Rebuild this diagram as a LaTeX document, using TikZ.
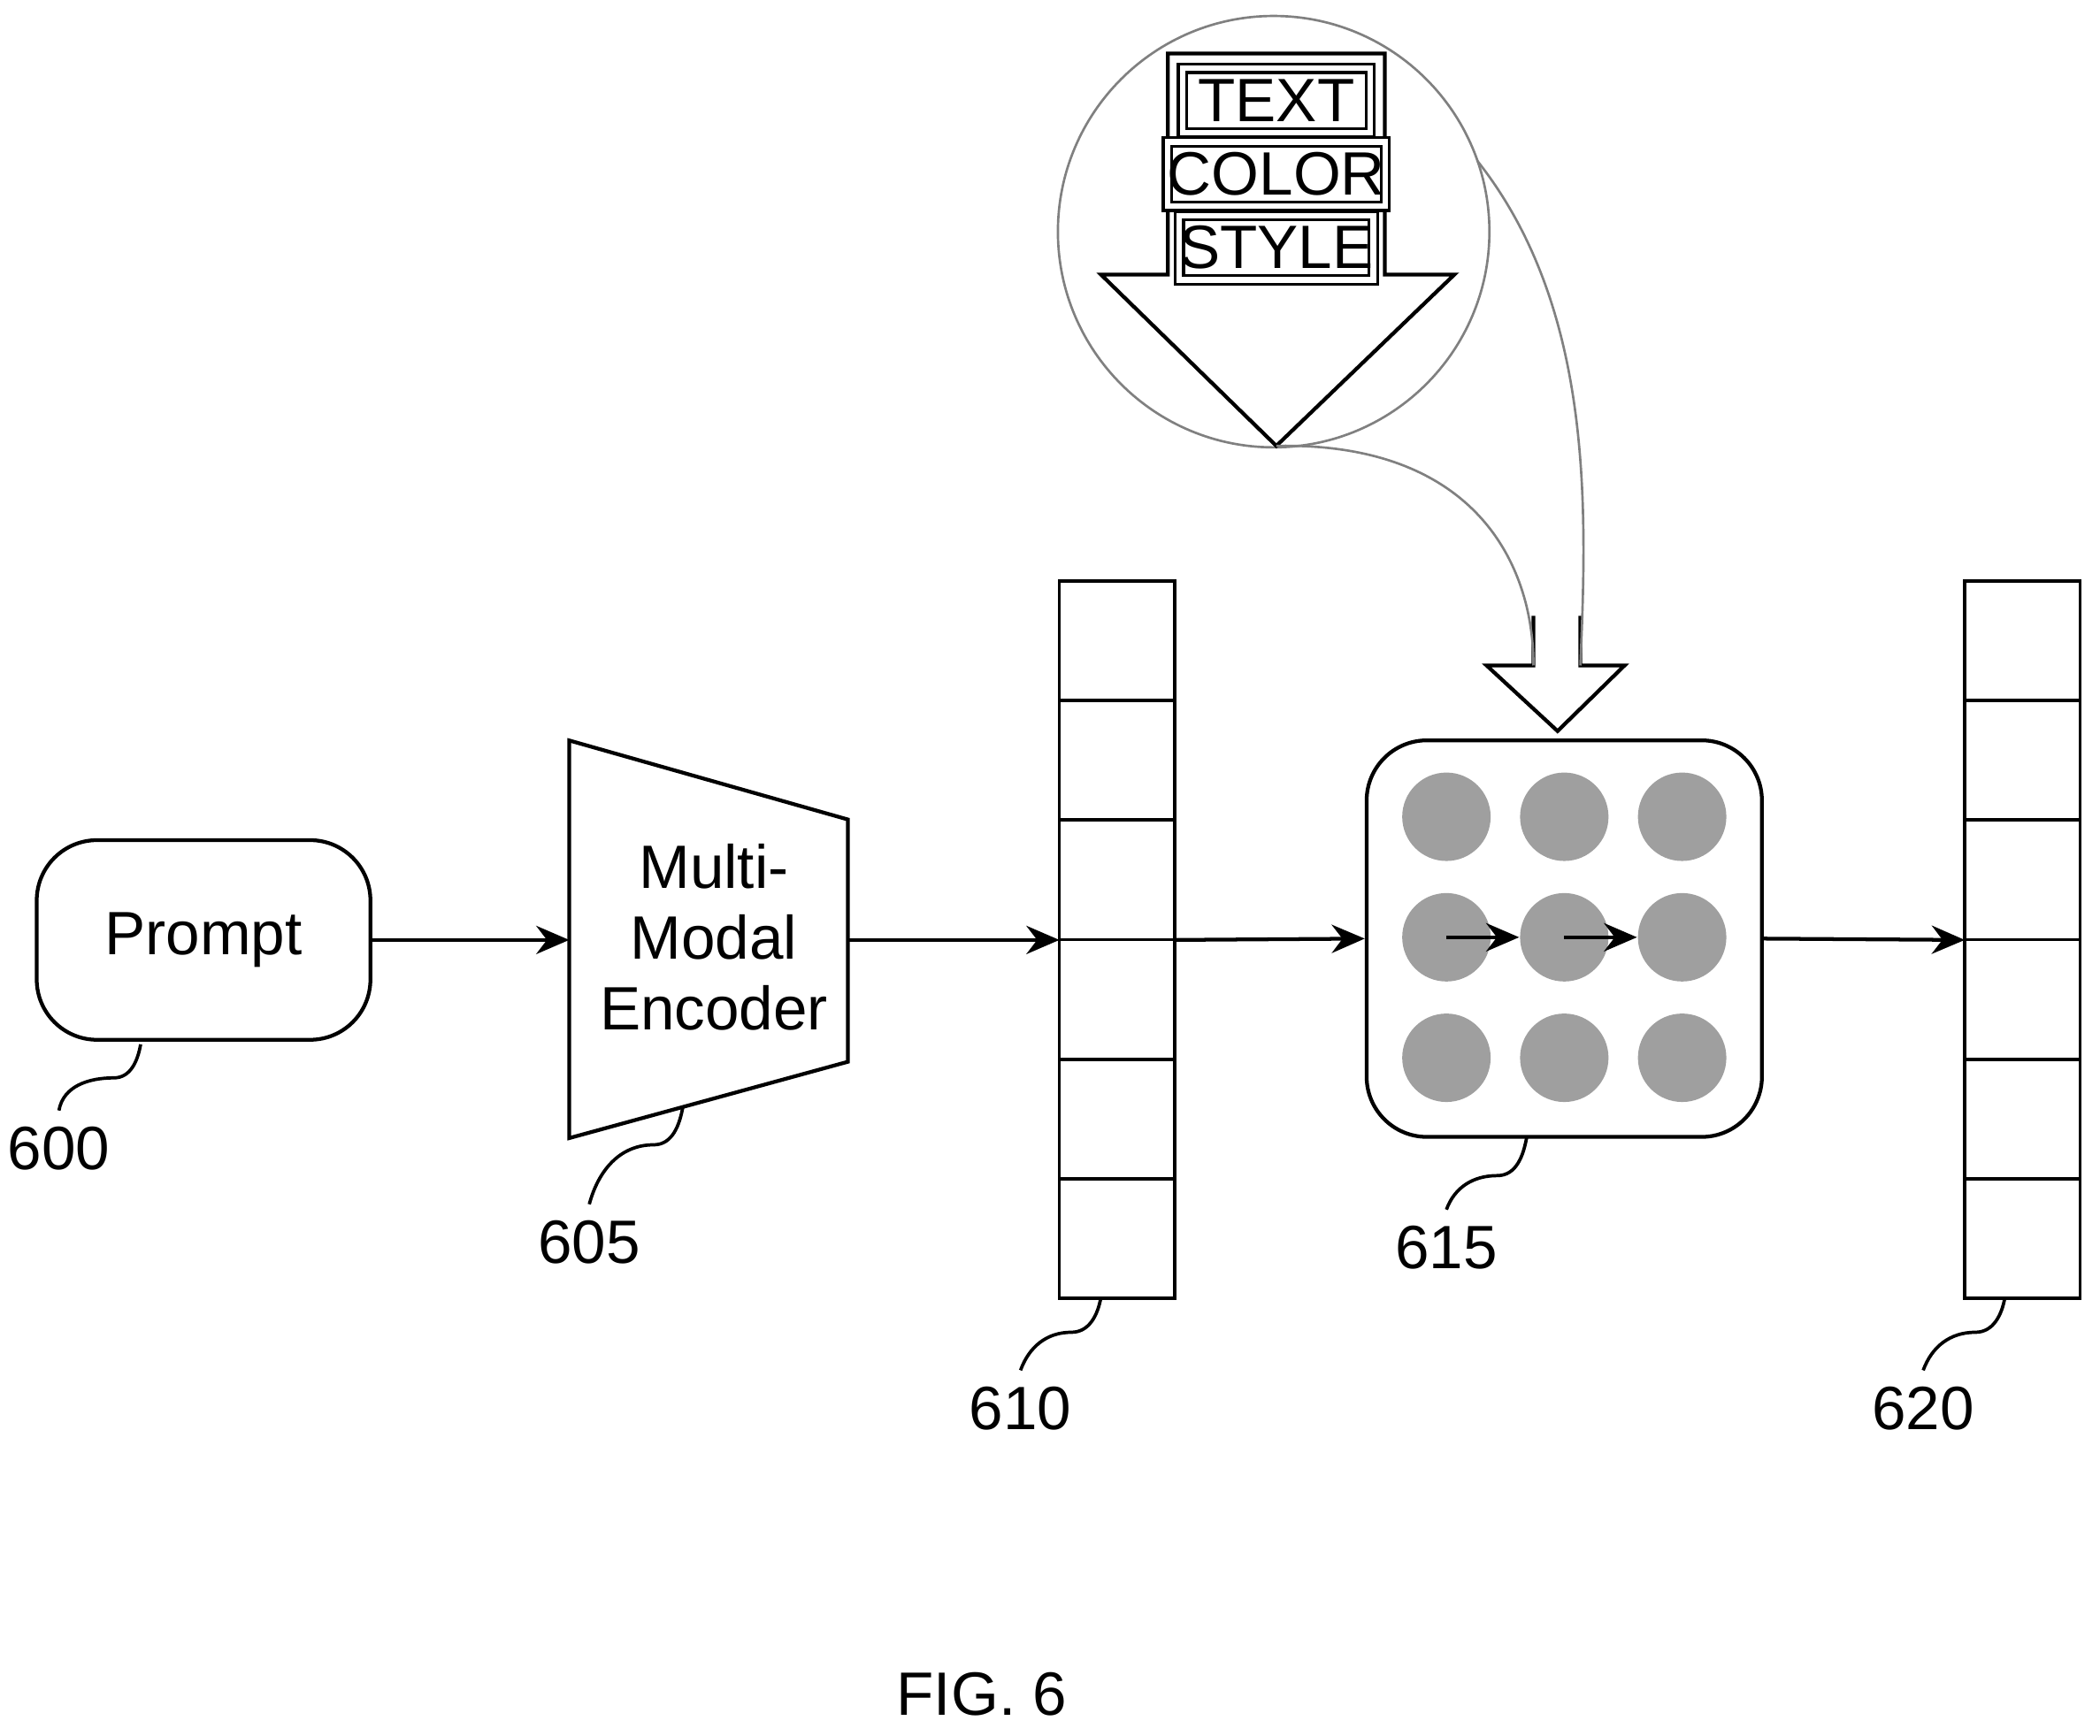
\documentclass[tikz,border=0pt]{standalone}
\usepackage{fontspec}
\setmainfont{Liberation Sans}
\usetikzlibrary{arrows.meta}
\usetikzlibrary{calc}
\usetikzlibrary{positioning}
\tikzset{every text node part/.style={align=center, font={\fontsize{13pt}{15pt}\selectfont}}}
\tikzset{block/.style={draw, line width=0.8pt, rounded corners=0.45cm, inner sep=0pt}}
\tikzset{cell/.style={draw, line width=0.7pt, minimum width=0.86cm, minimum height=0.8925cm, inner sep=0pt, outer sep=0pt}}
\tikzset{dot/.style={circle, fill=gray!75, minimum size=0.66cm, inner sep=0pt}}
\tikzset{tag/.style={draw, double, double distance=1.2pt, line width=0.6pt, minimum width=1.4cm, minimum height=0.48cm, inner sep=0pt, font={\fontsize{11.5pt}{13pt}\selectfont}}}
\tikzset{ln/.style={draw, line width=0.8pt, -{Stealth[length=7pt, width=6pt]}}}
\tikzset{lbl/.style={font={\fontsize{12.5pt}{14pt}\selectfont}}}
\tikzset{lead/.style={draw, line width=0.7pt}}
\begin{document}
\begin{tikzpicture}[x=0.01cm, y=-0.01cm]
  \useasboundingbox (0,0) rectangle (1568,1296);
  % prompt and encoder
  \node[block, minimum width=2.49cm, minimum height=1.49cm] (prompt) at (152,702) {Prompt};
  \draw[line width=0.8pt] (425,553) -- (633,612) -- (633,793) -- (425,850) -- cycle;
  \coordinate (encin) at (425,702);
  \coordinate (encout) at (633,702);
  \node (enc) at (533,700) {Multi-\\Modal\\Encoder};
  % embedding vectors
  \foreach \i in {0,...,5} {
    \node[cell, anchor=north west] (va\i) at (791,{434+89.25*\i}) {};
    \node[cell, anchor=north west] (vb\i) at (1467,{434+89.25*\i}) {};
  }
  \coordinate (vain) at (791,702);
  \coordinate (vaout) at (877,702);
  \coordinate (vbin) at (1467,702);
  % network
  \node[block, minimum width=2.95cm, minimum height=2.96cm] (net) at (1168,701) {};
  \foreach \r [count=\j] in {610,700,790} {
    \foreach \c [count=\k] in {1080,1168,1256} {
      \node[dot] (d\j\k) at (\c,\r) {};
    }
  }
  \draw[ln] (d21.center) -- (d22.west);
  \draw[ln] (d22.center) -- (d23.west);
  % main flow
  \draw[ln] (prompt.east) -- (encin);
  \draw[ln] (encout) -- (vain);
  \draw[ln] (vaout) -- (net.west);
  \draw[ln] (net.east) -- (vbin);
  % zoomed condition arrow
  \node[circle, draw=gray, line width=0.5pt, minimum size=3.22cm] (zoom) at (951,173) {};
  \draw[line width=0.8pt] (872,40) -- (1034,40) -- (1034,205) -- (1086,205) -- (953,333) -- (822,205) -- (872,205) -- cycle;
  \coordinate (tip) at (953,333);
  \node[tag] (text) at (953,75) {TEXT};
  \node[tag] (color) at (953,130) {COLOR};
  \node[tag] (style) at (953,185) {STYLE};
  % small hollow arrow into network
  \draw[line width=0.8pt] (1145,460) -- (1145,497) -- (1110,497) -- (1163,546) -- (1213,497) -- (1180,497) -- (1180,460);
  \coordinate (sl) at (1145,497);
  \coordinate (sr) at (1180,497);
  \draw[gray, line width=0.5pt] (tip) .. controls (1100,330) and (1145,420) .. (sl);
  \draw[gray, line width=0.5pt] (1103,120) .. controls (1190,230) and (1185,380) .. (sr);
  % reference numerals
  \node[lbl] (n600) at (44,858) {600};
  \node[lbl] (n605) at (440,928) {605};
  \node[lbl] (n610) at (762,1052) {610};
  \node[lbl] (n615) at (1080,932) {615};
  \node[lbl] (n620) at (1436,1052) {620};
  \draw[lead] (105,780) to[out=-100, in=0] (85,805) to[out=180, in=80] (n600.north);
  \draw[lead] (510,826) to[out=-100, in=0] (488,855) to[out=180, in=75] (n605.north);
  \draw[lead] (822,969) to[out=-100, in=0] (800,995) to[out=180, in=70] (n610.north);
  \draw[lead] (1140,849) to[out=-100, in=0] (1118,878) to[out=180, in=70] (n615.north);
  \draw[lead] (1497,969) to[out=-100, in=0] (1475,995) to[out=180, in=70] (n620.north);
  \node[font={\fontsize{17pt}{19pt}\selectfont\bfseries}] (fig) at (733,1265) {FIG. 6};
\end{tikzpicture}
\end{document}
